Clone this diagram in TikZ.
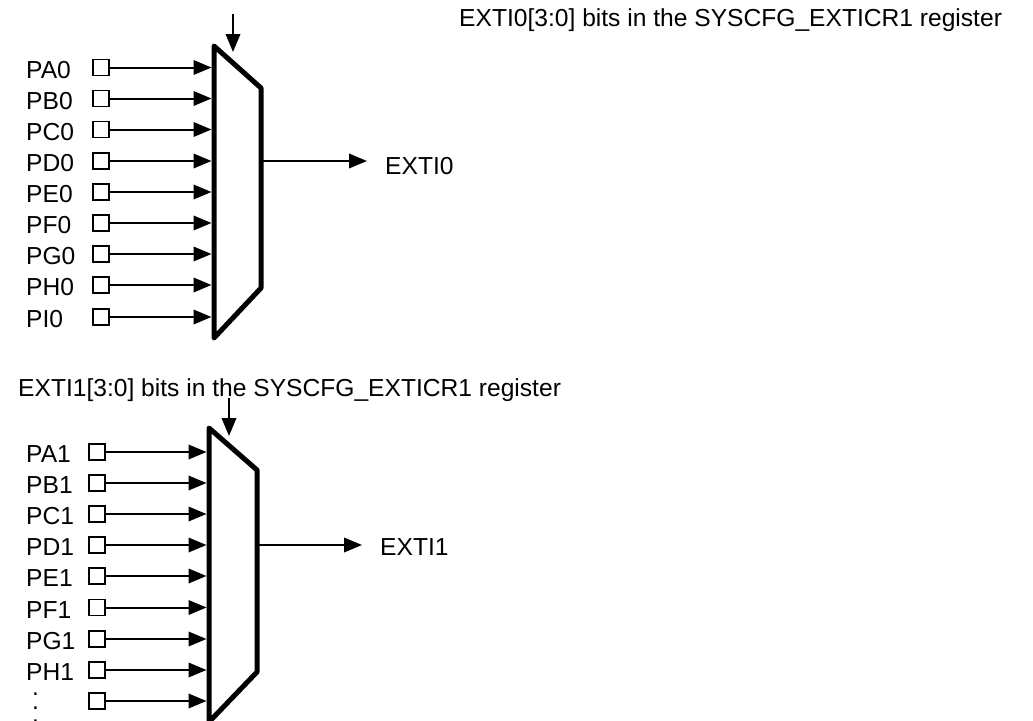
\documentclass[tikz,border=0pt]{standalone}
\usepackage{fontspec}
\setmainfont{Liberation Sans}
\usetikzlibrary{arrows.meta}
\tikzset{
	pin/.style={draw,line width=1.8pt,minimum size=16pt,inner sep=0pt},
	wire/.style={line width=2pt,-{Triangle[length=18pt,width=14.5pt]}},
	mux/.style={line width=5pt,line join=round},
	lbl/.style={anchor=base west,inner sep=0pt,font=\fontsize{24.6pt}{26pt}\selectfont}
}
\begin{document}
\begin{tikzpicture}[x=1pt,y=-1pt]
	\useasboundingbox (0,0) rectangle (1033,720);

	% first multiplexer
	\coordinate (muxaL) at (211.5,0);
	\draw[mux] (214,46) -- (261,88) -- (261,288) -- (214,338) -- cycle;
	\foreach \pname/\ypos in {PA0/67.5,PB0/98.5,PC0/129.5,PD0/161,PE0/192,PF0/223,PG0/254,PH0/285,PI0/317}{
		\node[pin] (s\pname) at (101,\ypos) {};
		\node[lbl] (t\pname) at (26,\ypos+10.5) {\pname};
		\draw[wire] (s\pname.east) -- (s\pname -| muxaL);
	}
	\coordinate (selaS) at (233,14);
	\coordinate (selaE) at (233,52);
	\draw[wire] (selaS) -- (selaE);
	\node[lbl] (sela) at (459,27) {EXTI0[3:0] bits in the SYSCFG\_EXTICR1 register};
	\coordinate (outaS) at (263,161);
	\node[lbl] (outa) at (385,174) {EXTI0};
	\coordinate (outaE) at (367,161);
	\draw[wire] (outaS) -- (outaE);

	% second multiplexer
	\coordinate (muxbL) at (206.5,0);
	\draw[mux] (209,428) -- (257,470) -- (257,672) -- (209,722) -- cycle;
	\foreach \pname/\ypos in {PA1/452,PB1/483,PC1/514,PD1/545,PE1/576,PF1/607.5,PG1/639,PH1/670}{
		\node[pin] (s\pname) at (97,\ypos) {};
		\node[lbl] (t\pname) at (26,\ypos+10.5) {\pname};
		\draw[wire] (s\pname.east) -- (s\pname -| muxbL);
	}
	\node[pin] (slast) at (97,701) {};
	\draw[wire] (slast.east) -- (slast -| muxbL);
	\node[lbl,anchor=north west,align=left,font=\fontsize{24.6pt}{13.5pt}\selectfont] (tdots) at (32,693) {.\\.\\.};
	\coordinate (selbS) at (229,398);
	\coordinate (selbE) at (229,436);
	\draw[wire] (selbS) -- (selbE);
	\node[lbl] (selb) at (18,396.5) {EXTI1[3:0] bits in the SYSCFG\_EXTICR1 register};
	\coordinate (outbS) at (259,545);
	\node[lbl] (outb) at (380,555) {EXTI1};
	\coordinate (outbE) at (362,545);
	\draw[wire] (outbS) -- (outbE);
\end{tikzpicture}
\end{document}
